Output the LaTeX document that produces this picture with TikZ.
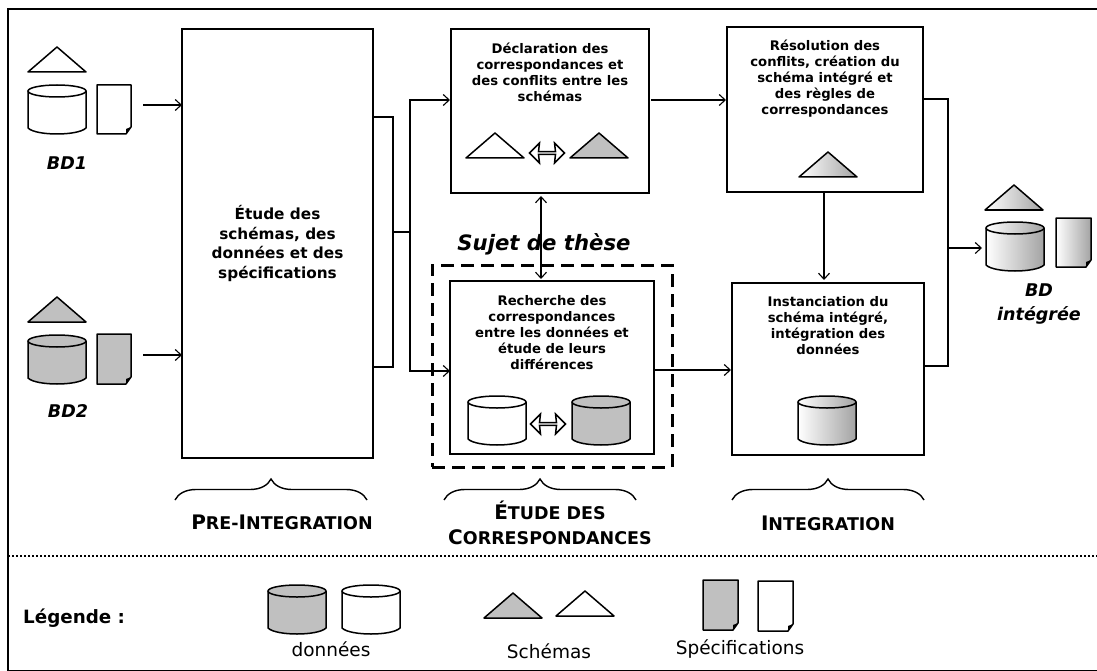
\documentclass[tikz,border=0pt]{standalone}
\usepackage{fontspec}
\setmainfont{DejaVu Sans}
\usetikzlibrary{arrows.meta,shapes.arrows,decorations.pathreplacing}
\begin{document}
\begin{tikzpicture}
		[x=1pt,y=-1pt,>={Straight Barb[length=6pt,width=11pt,line width=1.1pt]},
			lineDecorate/.style={-,line width=1.7pt},
			arrowDecorate/.style={->,line width=1.7pt},
			boxDecorate/.style={shape=rectangle,draw,line width=1.7pt,inner sep=0pt,outer sep=0pt},
			boxLabel/.style={align=center,inner sep=0pt,font=\bfseries\fontsize{13.2}{16}\selectfont},
			iconDecorate/.style={draw,line width=1.5pt,line join=round},
			plainIcon/.style={fill=white},
			greyIcon/.style={fill=greyFill},
			shadedIcon/.style={left color=white,right color=greyFill!85!black},
			swapDecorate/.style={shape=double arrow,draw,line width=1.5pt,fill=white,inner sep=0pt,
				minimum height=35pt,minimum width=20pt,double arrow head extend=4.5pt,double arrow head indent=1pt},
			braceDecorate/.style={decorate,decoration={brace,amplitude=21pt,aspect=0.5},line width=1.4pt},
			phaseLabel/.style={align=center,inner sep=0pt,font=\bfseries\fontsize{20}{25}\selectfont},
			bdLabel/.style={align=center,inner sep=0pt,font=\bfseries\itshape\fontsize{17.5}{24}\selectfont},
			legendLabel/.style={inner sep=0pt,font=\fontsize{18.5}{20}\selectfont}]
		\definecolor{greyFill}{HTML}{C0C0C0}
		\useasboundingbox (0,0) rectangle (1097,671);
		\node (frame) at (554.5,339.8) [shape=rectangle,draw,line width=1.5pt,inner sep=0pt,outer sep=0pt,
			minimum width=1093pt,minimum height=661.6pt] {};
		% process boxes
		\foreach \nodename/\x/\y/\w/\h in {
				etude/277.5/243.5/191/429, declaration/550/111/198/164, resolution/825/109.5/196/165,
				recherche/552/367.5/204/173, instanciation/828/369/192/172}
			{
				\node (\nodename) at (\x,\y) [boxDecorate,minimum width=\w pt,minimum height=\h pt] {};
			}
		\node (etudeText) at (etude.center) [boxLabel,font=\bfseries\fontsize{15.3}{19.5}\selectfont] {Étude des\\schémas, des\\données et des\\spécifications};
		\node (declarationText) at (550,72) [boxLabel] {Déclaration des\\correspondances et\\des conflits entre les\\schémas};
		\node (resolutionText) at (825,79) [boxLabel] {Résolution des\\conflits, création du\\schéma intégré et\\des règles de\\correspondances};
		\node (rechercheText) at (552,333) [boxLabel] {Recherche des\\correspondances\\entre les données et\\étude de leurs\\différences};
		\node (instanciationText) at (828,326) [boxLabel] {Instanciation du\\schéma intégré,\\intégration des\\données};
		\node (theseFrame) at (552,366) [shape=rectangle,draw,line width=3pt,dash pattern=on 13pt off 7pt,
			minimum width=240pt,minimum height=202pt] {};
		\node (theseText) at (544,244) [inner sep=0pt,font=\bfseries\itshape\fontsize{21.2}{24}\selectfont] {Sujet de thèse};
		% cylinders
		\foreach \x/\y/\look in {
				28/85/plainIcon, 28/335/greyIcon, 986/222/shadedIcon, 798/396/shadedIcon,
				468/396/plainIcon, 572/396/greyIcon}
			{
				\path [iconDecorate,\look] (\x,\y+6) -- (\x,\y+43)
					.. controls (\x+8,\y+51) and (\x+50,\y+51) .. (\x+58,\y+43) -- (\x+58,\y+6) -- cycle;
				\path [iconDecorate,\look] (\x+29,\y+6) ellipse [x radius=29,y radius=6];
			}
		% triangles
		\foreach \x/\y/\look in {
				28/47/plainIcon, 28/297/greyIcon, 985/185/shadedIcon, 466/133/plainIcon,
				570/133/greyIcon, 799/152/shadedIcon, 484/593/greyIcon, 556/591/plainIcon}
			{
				\path [iconDecorate,\look] (\x,\y+25) -- (\x+29,\y) -- (\x+58,\y+25) -- cycle;
			}
		% documents
		\foreach \x/\y/\w/\h/\look in {
				97/85/34/49/plainIcon, 97/334/34/50/greyIcon, 1056/218/35/49/shadedIcon,
				703/580/35/50/greyIcon, 758/581/35/50/plainIcon}
			{
				\path [iconDecorate,\look] (\x,\y) -- (\x+\w,\y) -- (\x+\w,\y+\h-7) -- (\x+\w-5,\y+\h) -- (\x,\y+\h) -- cycle;
				\fill (\x+\w,\y+\h-7) -- (\x+\w-5,\y+\h-5) -- (\x+\w-5,\y+\h) -- cycle;
			}
		\node (swapSchemas) at (547,153) [swapDecorate] {};
		\node (swapDonnees) at (548,424) [swapDecorate] {};
		\node (bdOne) at (67,163) [bdLabel] {BD1};
		\node (bdTwo) at (68,411) [bdLabel] {BD2};
		\node (bdIntegree) at (1039,304) [bdLabel] {BD\\intégrée};
		% connectors
		\coordinate (bdOneOut) at (143,105);
		\coordinate (bdTwoOut) at (143,355);
		\coordinate (busTop) at (393,117);
		\coordinate (busBottom) at (393,367);
		\coordinate (busMid) at (393,232);
		\coordinate (splitMid) at (410,232);
		\coordinate (declarationIn) at (450,100);
		\coordinate (rechercheIn) at (450,371);
		\coordinate (declarationOut) at (651,100);
		\coordinate (resolutionIn) at (726,100);
		\coordinate (rechercheOut) at (654,370);
		\coordinate (instanciationIn) at (731,370);
		\coordinate (outTop) at (948,99);
		\coordinate (outBottom) at (948,366);
		\coordinate (outMid) at (948,248);
		\coordinate (bdIntegreeIn) at (982,248);
		\coordinate (doubleTop) at (541,196);
		\coordinate (doubleBottom) at (541,279);
		\coordinate (resolutionOut) at (824,192);
		\coordinate (instanciationTop) at (824,280);
		\foreach \startnode/\endnode in {
				bdOneOut/etude.west |- bdOneOut, bdTwoOut/etude.west |- bdTwoOut,
				declarationOut/resolutionIn, rechercheOut/instanciationIn,
				resolutionOut/instanciationTop, outMid/bdIntegreeIn}
			{
				\draw [arrowDecorate] (\startnode) -- (\endnode);
			}
		\draw [lineDecorate] (etude.east |- busTop) -- (busTop) -- (busBottom) -- (etude.east |- busBottom);
		\draw [lineDecorate] (busMid) -- (splitMid);
		\draw [arrowDecorate] (splitMid) |- (declarationIn);
		\draw [arrowDecorate] (splitMid) |- (rechercheIn);
		\draw [arrowDecorate,<->] (doubleTop) -- (doubleBottom);
		\draw [lineDecorate] (resolution.east |- outTop) -- (outTop) -- (outBottom) -- (instanciation.east |- outBottom);
		% phases
		\coordinate (phaseOneLeft) at (175,500);
		\coordinate (phaseOneRight) at (367,500);
		\coordinate (phaseTwoLeft) at (444,500);
		\coordinate (phaseTwoRight) at (636,500);
		\coordinate (phaseThreeLeft) at (732,500);
		\coordinate (phaseThreeRight) at (924,500);
		\draw [braceDecorate] (phaseOneLeft) -- (phaseOneRight);
		\draw [braceDecorate] (phaseTwoLeft) -- (phaseTwoRight);
		\draw [braceDecorate] (phaseThreeLeft) -- (phaseThreeRight);
		\newcommand{\bigCap}{\fontsize{20}{25}\selectfont}
		\newcommand{\smallCap}{\fontsize{17.5}{25}\selectfont}
		\node (phaseOne) at (282,522) [phaseLabel] {\bigCap P\smallCap RE-\bigCap I\smallCap NTEGRATION};
		\node (phaseTwo) at (550,523) [phaseLabel] {\bigCap É\smallCap TUDE DES\\\bigCap C\smallCap ORRESPONDANCES};
		\node (phaseThree) at (828,523) [phaseLabel] {\bigCap I\smallCap NTEGRATION};
		% legend
		\coordinate (dotsLeft) at (frame.west |- 0,556);
		\coordinate (dotsRight) at (frame.east |- 0,556);
		\draw [line width=1.4pt,dash pattern=on 1.5pt off 2.5pt] (dotsLeft) -- (dotsRight);
		\foreach \x/\look in {268/greyIcon, 342/plainIcon}
			{
				\path [iconDecorate,\look] (\x,591) -- (\x,628)
					.. controls (\x+8,636) and (\x+50,636) .. (\x+58,628) -- (\x+58,591) -- cycle;
				\path [iconDecorate,\look] (\x+29,591) ellipse [x radius=29,y radius=6];
			}
		\node (legendTitle) at (23,618) [anchor=west,inner sep=0pt,font=\bfseries\fontsize{18.3}{20}\selectfont] {Légende :};
		\node (legendData) at (331,649) [legendLabel] {données};
		\node (legendSchema) at (549,651) [legendLabel] {Schémas};
		\node (legendSpec) at (740,649) [legendLabel] {Spécifications};
	\end{tikzpicture}
\end{document}
